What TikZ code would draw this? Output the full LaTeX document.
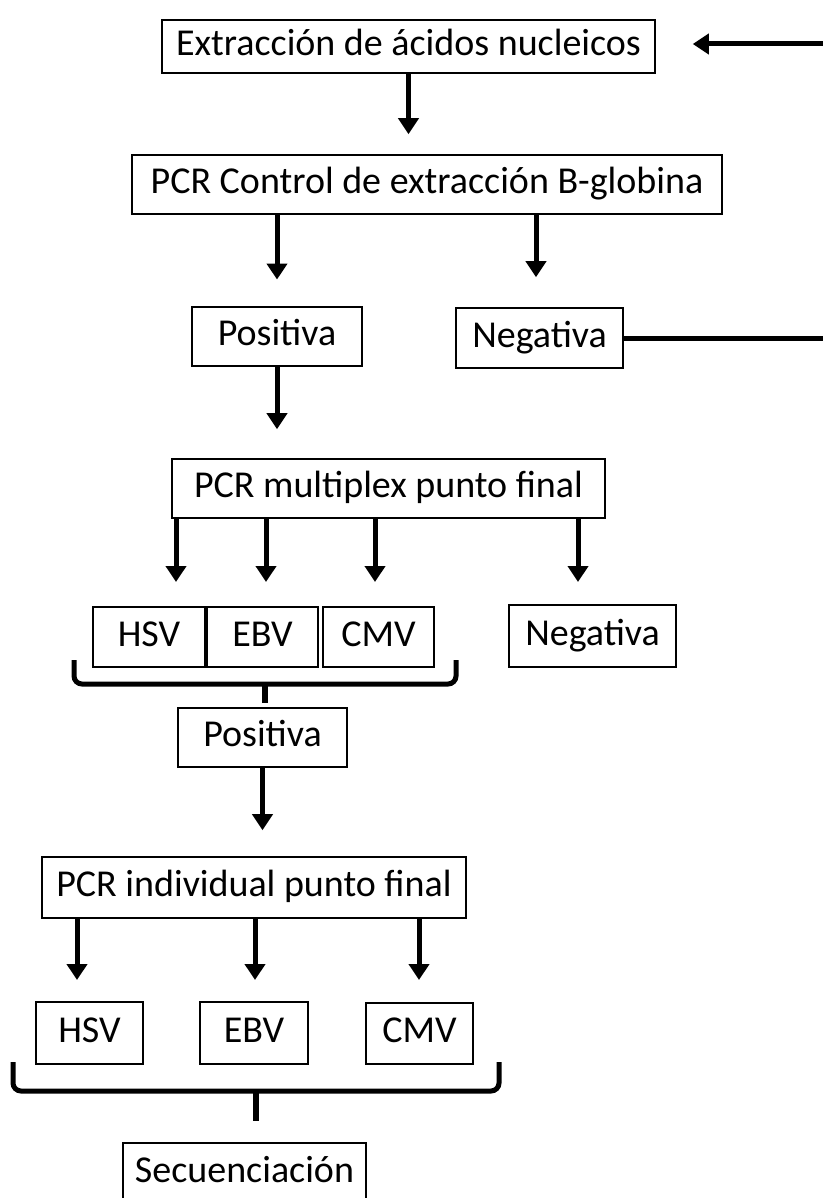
\documentclass[tikz,border=0pt]{standalone}
\usepackage{fontspec}
\setmainfont{Carlito}
\usetikzlibrary{arrows.meta}
\tikzset{
	caja/.style={draw, line width=1.2pt, inner sep=0pt, text height=20.5pt, text depth=6.3pt, font=\fontsize{28.5}{34}\selectfont},
	flecha/.style={line width=3.75pt, -{Triangle[width=15pt,length=12pt]}},
	llave/.style={line width=3.75pt, rounded corners=6pt}
}
\begin{document}
\begin{tikzpicture}[x=0.75pt,y=-0.75pt]
					\useasboundingbox (0,0) rectangle (823,1198);
					
					\node[caja, minimum width=369.75pt, minimum height=39.75pt] (extr) at (408.5,46.5) {Extracción de ácidos nucleicos};
					\node[caja, minimum width=442.5pt, minimum height=44.25pt] (control) at (427,184.5) {PCR Control de extracción B-globina};
					\node[caja, minimum width=127.5pt, minimum height=44.25pt] (pos1) at (277,336.5) {Positiva};
					\node[caja, minimum width=125.25pt, minimum height=45pt] (neg1) at (539.5,338) {Negativa};
					\coordinate (rin) at (823,44);
					\coordinate (rout) at (823,338);
					
					\draw[flecha, shorten >=27.75pt] (rin) -- (extr.east |- rin);
					\draw[flecha, shorten >=15pt] (extr) -- (extr |- control.north);
					\draw[flecha, shorten >=20pt] (control.south -| pos1) -- (pos1.north);
					\draw[flecha, shorten >=22.5pt] (control.south -| 536,0) -- (neg1.north -| 536,0);
					\draw[line width=3.75pt] (neg1.east) -- (rout);
					
					\node[caja, minimum width=324.75pt, minimum height=44.25pt] (multi) at (388.5,488.5) {PCR multiplex punto final};
					\draw[flecha, shorten >=21.75pt] (pos1) -- (pos1 |- multi.north);
					
					\node[caja, minimum width=84pt, minimum height=45pt] (hsv1) at (149,637) {HSV};
					\node[caja, minimum width=83.25pt, minimum height=45pt] (ebv1) at (262.5,637) {EBV};
					\node[caja, minimum width=83.25pt, minimum height=45pt] (cmv1) at (378.5,637) {CMV};
					\node[caja, minimum width=125.25pt, minimum height=46.5pt] (neg2) at (592.5,636) {Negativa};
					
					\foreach [count=\i] \x in {176,266,375,578}{
						\coordinate (m\i) at (\x,582);
						\draw[flecha] (multi.south -| m\i) -- (m\i);
					}
					
					\draw[llave] (74,660) -- (74,684) -- (456,684) -- (456,660);
					\draw[line width=4pt] (265,684) -- (265,703);
					
					\node[caja, minimum width=126.75pt, minimum height=44.25pt] (pos2) at (262.5,737.5) {Positiva};
					\node[caja, minimum width=318pt, minimum height=45.75pt] (indiv) at (254,887.5) {PCR individual punto final};
					\draw[flecha, shorten >=19.5pt] (pos2) -- (pos2 |- indiv.north);
					
					\node[caja, minimum width=80.25pt, minimum height=46.5pt] (hsv2) at (89.5,1033) {HSV};
					\node[caja, minimum width=81pt, minimum height=46.5pt] (ebv2) at (254,1033) {EBV};
					\node[caja, minimum width=80.25pt, minimum height=45.75pt] (cmv2) at (419.5,1033.5) {CMV};
					
					\foreach [count=\i] \x in {77,255,419}{
						\coordinate (p\i) at (\x,980);
						\draw[flecha] (indiv.south -| p\i) -- (p\i);
					}
					
					\draw[llave] (13,1062) -- (13,1091) -- (499,1091) -- (499,1062);
					\draw[line width=4pt] (256,1091) -- (256,1121);
					
					\node[caja, minimum width=182.25pt, minimum height=45pt] (secu) at (244.5,1173) {Secuenciación};
					
					\end{tikzpicture}
\end{document}
